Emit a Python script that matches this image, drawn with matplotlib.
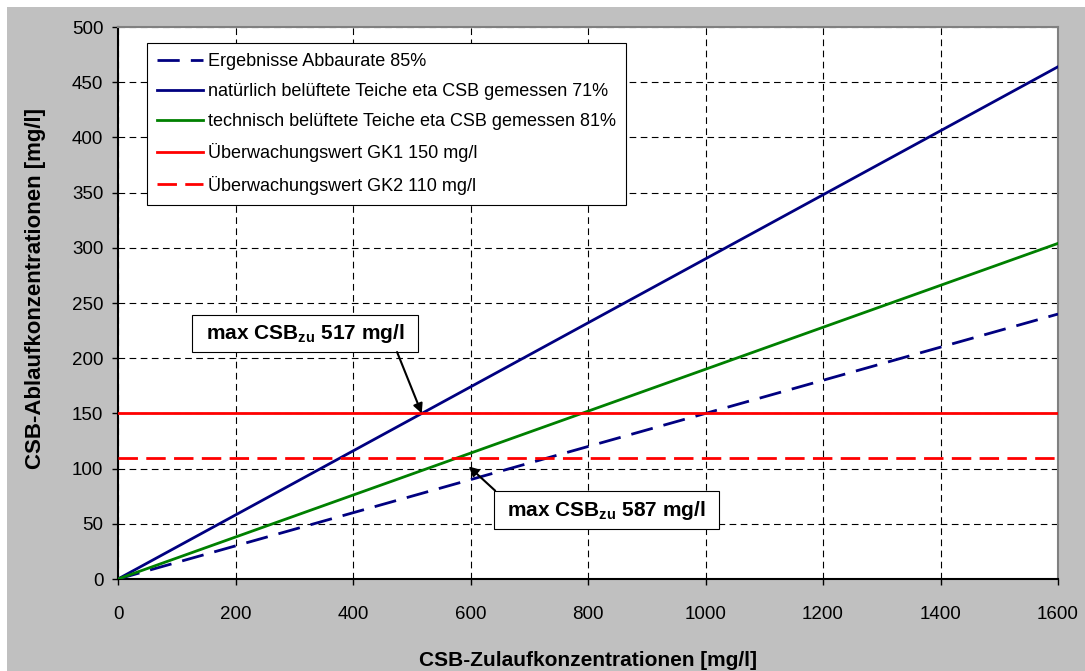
import numpy as np
import matplotlib
matplotlib.use("Agg")
import matplotlib.pyplot as plt
from matplotlib.patches import Rectangle

plt.rcParams['font.family'] = ['Liberation Sans', 'DejaVu Sans']
plt.rcParams['mathtext.fontset'] = 'custom'
plt.rcParams['mathtext.rm'] = 'Liberation Sans:bold'
plt.rcParams['mathtext.it'] = 'Liberation Sans:bold'
plt.rcParams['mathtext.bf'] = 'Liberation Sans:bold'

# Data
x_range = [0, 1600]
abbau_rates = [0.85, 0.71, 0.81]          # elimination rates
series_labels = [
    "Ergebnisse Abbaurate 85%",
    "natürlich belüftete Teiche eta CSB gemessen 71%",
    "technisch belüftete Teiche eta CSB gemessen 81%",
]
limit_values = [150, 110]
limit_labels = ["Überwachungswert GK1 150 mg/l", "Überwachungswert GK2 110 mg/l"]
max_inflow = [517, 587]
x_ticks = [0, 200, 400, 600, 800, 1000, 1200, 1400, 1600]
y_ticks = [0, 50, 100, 150, 200, 250, 300, 350, 400, 450, 500]

fig = plt.figure(figsize=(10.85, 6.71), dpi=100)
fig.patch.set_facecolor('white')
fig.patches.append(Rectangle((7/1085, 0), 1, 1 - 7/671, transform=fig.transFigure,
                             facecolor='#C0C0C0', edgecolor='none', zorder=-10))

ax = fig.add_axes([118/1085, 1 - 579/671, 940/1085, 552/671])
ax.set_facecolor('white')

xs = np.array(x_range, dtype=float)
navy = '#000080'
green = '#008000'
red = '#FF0000'

ax.plot(xs, (1 - abbau_rates[0]) * xs, color=navy, lw=2.0, dashes=(8, 4),
        label=series_labels[0], zorder=3)
ax.plot(xs, (1 - abbau_rates[1]) * xs, color=navy, lw=2.0,
        label=series_labels[1], zorder=3)
ax.plot(xs, (1 - abbau_rates[2]) * xs, color=green, lw=2.0,
        label=series_labels[2], zorder=3)
ax.plot(xs, [limit_values[0]] * 2, color=red, lw=2.0, label=limit_labels[0], zorder=3)
ax.plot(xs, [limit_values[1]] * 2, color=red, lw=2.0, dashes=(7, 3),
        label=limit_labels[1], zorder=3)

ax.set_xlim(0, 1600)
ax.set_ylim(0, 500)
ax.set_xticks(x_ticks)
ax.set_yticks(y_ticks)
ax.set_xticklabels([str(v) for v in x_ticks], fontsize=13.5)
ax.set_yticklabels([str(v) for v in y_ticks], fontsize=13.5)
ax.tick_params(axis='both', direction='out', length=4.5, width=1, color='black')
ax.tick_params(axis='y', pad=6)
ax.tick_params(axis='x', pad=15)

ax.grid(True, color='black', lw=0.8, linestyle=(0, (6, 4)))
ax.set_axisbelow(True)

for side in ['top', 'right']:
    ax.spines[side].set_color('#808080')
    ax.spines[side].set_linewidth(1.5)
for side in ['left', 'bottom']:
    ax.spines[side].set_color('black')
    ax.spines[side].set_linewidth(1.5)

ax.set_xlabel("CSB-Zulaufkonzentrationen [mg/l]", fontsize=15, fontweight='bold',
              labelpad=20)
ax.set_ylabel("CSB-Ablaufkonzentrationen [mg/l]", fontsize=16, fontweight='bold')
ax.yaxis.set_label_coords(-72/940, 0.527)

leg = ax.legend(loc='upper left', bbox_to_anchor=(29/940, 1 - 16/552), fontsize=13,
                frameon=True, fancybox=False, edgecolor='black', framealpha=1,
                borderpad=0.55, labelspacing=0.73, handlelength=2.55,
                handletextpad=0.28, borderaxespad=0)
leg.get_frame().set_linewidth(0.8)

# Annotation boxes with arrows
def label_box(text, x0, x1, y0, y1, start, target):
    ax.add_patch(Rectangle((x0, y0), x1 - x0, y1 - y0, facecolor='white',
                           edgecolor='black', lw=0.8, zorder=5))
    ax.text((x0 + x1) / 2, (y0 + y1) / 2, text, fontsize=15, fontweight='bold',
            ha='center', va='center', zorder=6)
    ax.annotate("", xy=target, xytext=start,
                arrowprops=dict(arrowstyle='-|>', color='black', lw=1.5,
                                shrinkA=0, shrinkB=0, mutation_scale=14),
                zorder=6)

label_box(r"max CSB$_{\mathrm{zu}}$ %d mg/l" % max_inflow[0],
          126, 511, 205.6, 239, start=(475, 205.6),
          target=(max_inflow[0], limit_values[0]))
label_box(r"max CSB$_{\mathrm{zu}}$ %d mg/l" % max_inflow[1],
          640, 1023, 45, 80, start=(642, 80),
          target=(max_inflow[1] + 10, limit_values[1] - 8))

fig.savefig("out.png", dpi=100, facecolor=fig.get_facecolor())
